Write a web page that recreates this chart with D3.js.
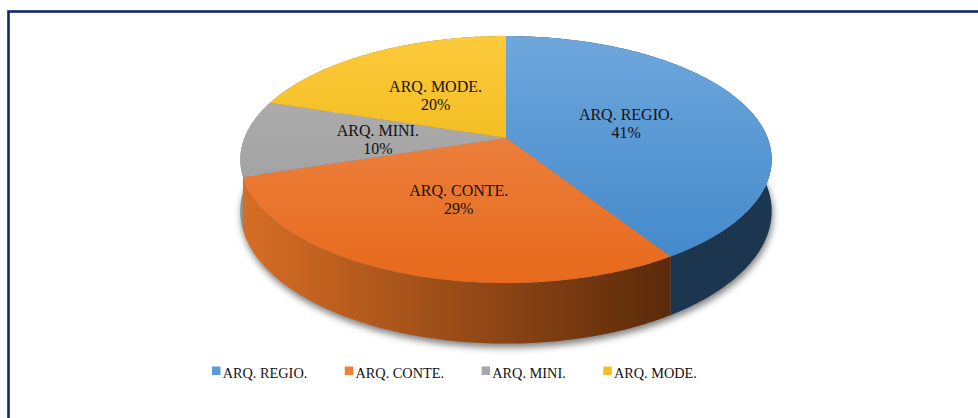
<!DOCTYPE html>
<html>
<head>
<meta charset="utf-8">
<script src="https://cdn.jsdelivr.net/npm/d3@7"></script>
<style>
  body { margin: 0; background: #fff; }
  svg { display: block; }
</style>
</head>
<body>
<div id="plot"></div>
<script>
// Data
var categories = ["ARQ. REGIO.", "ARQ. CONTE.", "ARQ. MINI.", "ARQ. MODE."];
var shares = [41, 29, 10, 20];
var pctLabels = ["41%", "29%", "10%", "20%"];

var width = 978, height = 418;

var svg = d3.select("#plot")
	.append("svg")
	.attr("width", width)
	.attr("height", height);

var defs = svg.append("defs");

// Colours: top face gradient (light, dark) and wall gradient (left, right)
var topCols = [["#6EA7DC", "#3F86C9"], ["#EF8E52", "#E7691B"], ["#B3B3B3", "#979797"], ["#FDCA3C", "#E3AE00"]];
var wallCols = [["#21405E", "#1C3650"], ["#D86E25", "#5A2A0A"], ["#909090", "#7A7A7A"], ["#B58800", "#8E6A00"]];

// Perspective disc
var CX = 506, CY = 137.9, RX = 261.6, RY = 119.7, K = 0.175, H = 50;
function proj(t, r, drop) {
	var z = r * Math.cos(t);
	var s = 1 / (1 + K * z);
	return [CX + RX * r * Math.sin(t) * s, CY - RY * z * s + drop * s];
}

var pie = d3.pie().sort(null).value(function(d){ return d; })
	.startAngle(0).endAngle(2 * Math.PI);
var arcs = pie(shares);

function arcPoints(a0, a1, r, drop) {
	var n = Math.max(2, Math.ceil((a1 - a0) / 0.01));
	return d3.range(n + 1).map(function(i){ return proj(a0 + (a1 - a0) * i / n, r, drop); });
}
var line = d3.line();

topCols.forEach(function(c, i){
	var g = defs.append("linearGradient").attr("id", "top" + i)
		.attr("gradientUnits", "userSpaceOnUse")
		.attr("x1", 0).attr("y1", 36).attr("x2", 0).attr("y2", 284);
	g.append("stop").attr("offset", 0).attr("stop-color", c[0]);
	g.append("stop").attr("offset", 1).attr("stop-color", c[1]);
});
wallCols.forEach(function(c, i){
	var g = defs.append("linearGradient").attr("id", "wall" + i)
		.attr("gradientUnits", "userSpaceOnUse")
		.attr("x1", 240).attr("y1", 0).attr("x2", 670).attr("y2", 0);
	g.append("stop").attr("offset", 0).attr("stop-color", c[0]);
	g.append("stop").attr("offset", 1).attr("stop-color", c[1]);
});

var blur = defs.append("filter").attr("id", "shadow")
	.attr("x", "-10%").attr("y", "-10%").attr("width", "120%").attr("height", "130%");
blur.append("feGaussianBlur").attr("stdDeviation", 3.5);

// Frame
svg.append("rect")
	.attr("x", 8.5).attr("y", 11.5)
	.attr("width", 1000).attr("height", 500)
	.attr("fill", "none")
	.attr("stroke", "#0B2A66")
	.attr("stroke-width", 2.6);

// Shadow under the disc
var full = arcPoints(0, 2 * Math.PI, 1, H);
svg.append("path")
	.attr("d", line(full) + "Z")
	.attr("transform", "translate(1,4)")
	.attr("fill", "#000")
	.attr("opacity", 0.5)
	.attr("filter", "url(#shadow)");

// Outer walls, far ones first
var wallOrder = arcs.map(function(d, i){ return i; })
	.sort(function(a, b){
		var ma = (arcs[a].startAngle + arcs[a].endAngle) / 2;
		var mb = (arcs[b].startAngle + arcs[b].endAngle) / 2;
		return Math.cos(mb) - Math.cos(ma);
	});
svg.append("g").selectAll("path")
	.data(wallOrder).enter()
	.append("path")
	.attr("d", function(i){
		var d = arcs[i];
		var top = arcPoints(d.startAngle, d.endAngle, 1, 0);
		var bot = arcPoints(d.startAngle, d.endAngle, 1, H).reverse();
		return line(top.concat(bot)) + "Z";
	})
	.attr("fill", function(i){ return "url(#wall" + i + ")"; });

// Top faces
svg.append("g").selectAll("path")
	.data(arcs).enter()
	.append("path")
	.attr("d", function(d){
		return line([proj(0, 0, 0)].concat(arcPoints(d.startAngle, d.endAngle, 1, 0))) + "Z";
	})
	.attr("fill", function(d, i){ return "url(#top" + i + ")"; });

// Data labels at the middle of each slice
var labels = svg.append("g")
	.style("font-family", "'Liberation Serif', 'Times New Roman', serif")
	.style("font-size", "16px")
	.attr("fill", "#111")
	.attr("text-anchor", "middle")
	.selectAll("text")
	.data(arcs).enter()
	.append("text")
	.attr("transform", function(d){
		var p = proj((d.startAngle + d.endAngle) / 2, 0.49, 0);
		return "translate(" + p[0] + "," + p[1] + ")";
	});
labels.append("tspan").attr("x", 0).attr("y", -1.5).text(function(d, i){ return categories[i]; });
labels.append("tspan").attr("x", 0).attr("y", 16.5).text(function(d, i){ return pctLabels[i]; });

// Legend
var legend = svg.append("g")
	.attr("transform", "translate(212,0)")
	.style("font-family", "'Liberation Serif', 'Times New Roman', serif")
	.style("font-size", "14.3px");
var lx = 0;
categories.forEach(function(c, i){
	legend.append("rect")
		.attr("x", lx).attr("y", 366.5)
		.attr("width", 8.5).attr("height", 8.5)
		.attr("fill", d3.interpolateRgb(topCols[i][0], topCols[i][1])(0.4));
	var t = legend.append("text")
		.attr("x", lx + 10.7).attr("y", 377.5)
		.attr("fill", "#111")
		.text(c);
	lx += 10.7 + t.node().getComputedTextLength() + 37.5;
});
</script>
</body>
</html>
